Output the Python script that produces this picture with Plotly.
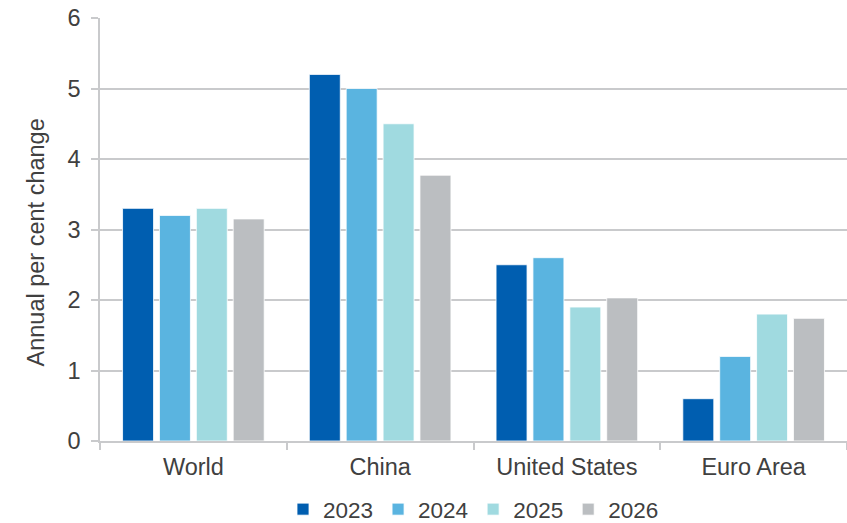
import plotly.graph_objects as go

categories = ["World", "China", "United States", "Euro Area"]
years = ["2023", "2024", "2025", "2026"]
values_2023 = [3.3, 5.2, 2.5, 0.6]
values_2024 = [3.2, 5.0, 2.6, 1.2]
values_2025 = [3.3, 4.5, 1.9, 1.8]
values_2026 = [3.15, 3.77, 2.03, 1.74]
series = [values_2023, values_2024, values_2025, values_2026]
colors = ["#005EB0", "#5AB4E0", "#A0DAE0", "#BBBEC1"]
y_title = "Annual per cent change"

font_family = "Liberation Sans, Arial, sans-serif"
text_color = "#404040"
grid_color = "#C9CACC"
fs = 23.5

fig = go.Figure()
for name, vals, col in zip(years, series, colors):
    fig.add_trace(go.Bar(
        x=categories, y=vals, name=name,
        marker=dict(color=col, line=dict(color="white", width=0.8)),
    ))

fig.add_annotation(text=y_title, xref="paper", yref="paper", x=0, y=0.5,
                   xanchor="center", yanchor="middle",
                   xshift=-65, yshift=-13, textangle=-90, showarrow=False,
                   font=dict(size=fs, color=text_color))

fig.update_layout(
    width=847, height=523,
    margin=dict(l=100, r=0, t=18, b=82, autoexpand=False),
    paper_bgcolor="white", plot_bgcolor="white",
    barmode="group", bargap=0.21, bargroupgap=0.16,
    font=dict(family=font_family, size=fs, color=text_color),
    showlegend=True,
    legend=dict(orientation="h", x=0.5, xanchor="center", y=-0.162, yanchor="middle",
                font=dict(size=22.5, color=text_color), itemwidth=30,
                tracegroupgap=0, traceorder="normal", borderwidth=0),
    xaxis=dict(showline=True, linecolor=grid_color, linewidth=1.5,
               ticks="outside", tickson="boundaries", ticklen=7, tickcolor=grid_color,
               tickwidth=1.5, ticklabelstandoff=4, tickfont=dict(size=fs, color=text_color)),
    yaxis=dict(range=[0, 6], dtick=1, showgrid=True, gridcolor=grid_color, gridwidth=1.5,
               showline=True, linecolor=grid_color, linewidth=1.5,
               ticks="outside", ticklen=7, tickcolor=grid_color, tickwidth=1.5,
               ticklabelstandoff=6,
               tickfont=dict(size=fs, color=text_color), zeroline=False),
)

fig.write_html("out.html")
